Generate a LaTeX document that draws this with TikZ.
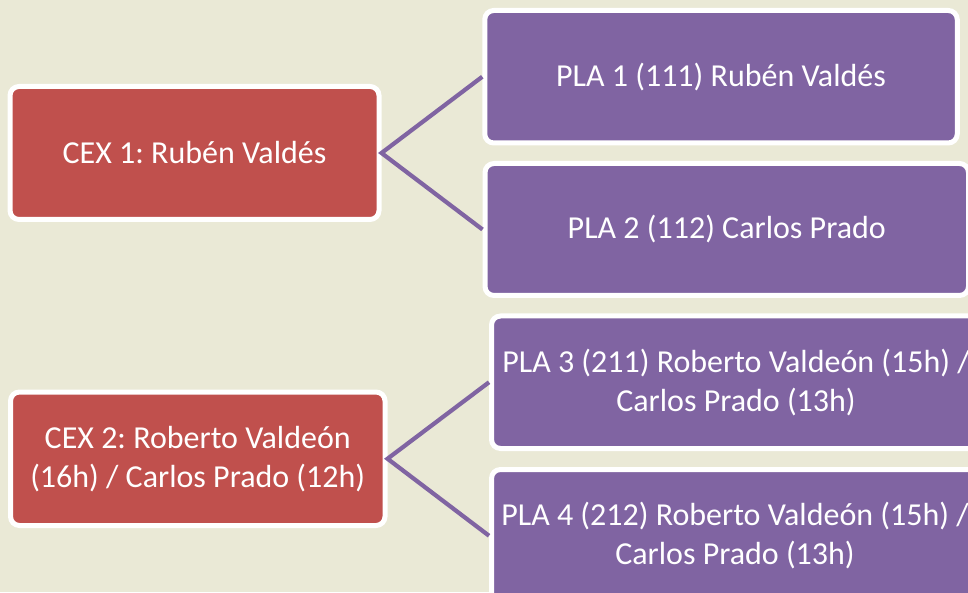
\documentclass[tikz,border=0pt]{standalone}
\usepackage{fontspec}
\setmainfont{Carlito}
\frenchspacing
\definecolor{bgc}{RGB}{234,233,214}
\definecolor{cexred}{RGB}{192,80,77}
\definecolor{plapurple}{RGB}{128,100,162}
\begin{document}
\begin{tikzpicture}[x=1pt,y=1pt,
  boxbase/.style={draw=white, line width=5pt, rounded corners=9pt, text=white,
    align=center, inner sep=0pt, font=\fontsize{32}{39}\selectfont},
  cexbox/.style={boxbase, fill=cexred},
  plabox/.style={boxbase, fill=plapurple},
  link/.style={draw=plapurple, line width=4.2pt}]
\fill[bgc] (0,0) rectangle (968,592);
\useasboundingbox (0,0) rectangle (968,592);
\begin{scope}
\clip (0,0) rectangle (968,592);
\node[cexbox, minimum width=369pt, minimum height=133pt] (cex1) at (194.5,439) {CEX 1: Rubén Valdés};
\node[cexbox, minimum width=374.5pt, minimum height=133.5pt] (cex2) at (197.75,133.25) {CEX 2: Roberto Valdeón\\(16h) / Carlos Prado (12h)};
\node[plabox, minimum width=472.5pt, minimum height=132.5pt] (pla1) at (721,515.25) {PLA 1 (111) Rubén Valdés};
\node[plabox, minimum width=483.5pt, minimum height=132pt] (pla2) at (726.75,362.5) {PLA 2 (112) Carlos Prado};
\node[plabox, minimum width=489pt, minimum height=132.5pt] (pla3) at (736,209.75) {PLA 3 (211) Roberto Valdeón (15h) /\\Carlos Prado (13h)};
\node[plabox, minimum width=487pt, minimum height=132.5pt] (pla4) at (735,56.25) {PLA 4 (212) Roberto Valdeón (15h) /\\Carlos Prado (13h)};
\draw[link] (pla1.west) -- (cex1.east) -- (pla2.west);
\draw[link] (pla3.west) -- (cex2.east) -- (pla4.west);
\end{scope}
\end{tikzpicture}
\end{document}
